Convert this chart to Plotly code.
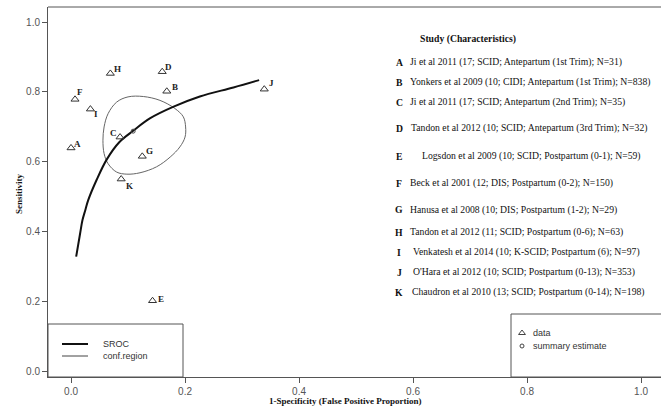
import plotly.graph_objects as go

# ---- study-level accuracy estimates (1-specificity, sensitivity) ----
studies = ["A", "B", "C", "D", "E", "F", "G", "H", "I", "J", "K"]
fpr = [0.000, 0.168, 0.086, 0.160, 0.143, 0.007, 0.125, 0.069, 0.034, 0.339, 0.088]
sens = [0.640, 0.802, 0.671, 0.858, 0.203, 0.779, 0.616, 0.853, 0.751, 0.808, 0.551]

descriptions = [
    "Ji et al 2011 (17; SCID; Antepartum (1st Trim); N=31)",
    "Yonkers et al 2009 (10; CIDI; Antepartum (1st Trim); N=838)",
    "Ji et al 2011 (17; SCID; Antepartum (2nd Trim); N=35)",
    "Tandon et al 2012 (10; SCID; Antepartum (3rd Trim); N=32)",
    "Logsdon et al 2009 (10; SCID; Postpartum (0-1); N=59)",
    "Beck et al 2001 (12; DIS; Postpartum (0-2); N=150)",
    "Hanusa et al 2008 (10; DIS; Postpartum (1-2); N=29)",
    "Tandon et al 2012 (11; SCID; Postpartum (0-6); N=63)",
    "Venkatesh et al 2014 (10; K-SCID; Postpartum (6); N=97)",
    "O'Hara et al 2012 (10; SCID; Postpartum (0-13); N=353)",
    "Chaudron et al 2010 (13; SCID; Postpartum (0-14); N=198)",
]

# ---- pooled summary point ----
summary_fpr = [0.109]
summary_sens = [0.688]

# ---- SROC curve ----
sroc_fpr = [0.009, 0.016, 0.020, 0.025, 0.030, 0.045, 0.063, 0.085,
            0.109, 0.139, 0.180, 0.226, 0.285, 0.330]
sroc_sens = [0.329, 0.396, 0.433, 0.462, 0.490, 0.549, 0.608, 0.657,
             0.689, 0.725, 0.758, 0.787, 0.813, 0.834]

# ---- 95% confidence region around the summary point ----
region_fpr = [0.056, 0.058, 0.065, 0.080, 0.100, 0.127, 0.156, 0.182, 0.197,
              0.201, 0.200, 0.191, 0.174, 0.150, 0.121, 0.098, 0.080, 0.065,
              0.058, 0.056]
region_sens = [0.662, 0.700, 0.738, 0.771, 0.786, 0.787, 0.776, 0.753, 0.729,
               0.700, 0.671, 0.643, 0.614, 0.586, 0.569, 0.565, 0.571, 0.595,
               0.624, 0.662]

ticks = [0.0, 0.2, 0.4, 0.6, 0.8, 1.0]
tick_text = ["0.0", "0.2", "0.4", "0.6", "0.8", "1.0"]

# ---- page geometry (pixels) ----
W, H = 661, 416
L, T, R, B = 48, 7, 661, 377
SERIF = "Liberation Serif"
SANS = "Liberation Sans"
FRAME = "#555555"


def px(x):
    return (x - L) / (R - L)


def py(y):
    return (B - y) / (B - T)


fig = go.Figure()

fig.add_trace(go.Scatter(
    x=region_fpr, y=region_sens, mode="lines", line_shape="spline",
    line=dict(color="#666666", width=1), hoverinfo="skip", showlegend=False))

fig.add_trace(go.Scatter(
    x=sroc_fpr, y=sroc_sens, mode="lines", line_shape="spline",
    line=dict(color="#111111", width=2), hoverinfo="skip", showlegend=False))

fig.add_trace(go.Scatter(
    x=fpr, y=sens, mode="markers", text=studies,
    marker=dict(symbol="triangle-up-open", size=7,
                color="#333333", line=dict(width=1, color="#333333")),
    showlegend=False))

fig.add_trace(go.Scatter(
    x=summary_fpr, y=summary_sens, mode="markers",
    marker=dict(symbol="circle-open", size=4, color="#444444",
                line=dict(width=1, color="#444444")),
    showlegend=False))

# letter labels next to each study point (pixel offsets, y down)
label_offset = {
    "A": (6, -4), "B": (8, -4), "C": (-7, -4), "D": (6, -5), "E": (8, -2),
    "F": (5, -7), "G": (7, -5), "H": (7, -4), "I": (6, 5), "J": (7, -6),
    "K": (8, 7),
}
annotations = []
for s, x, y in zip(studies, fpr, sens):
    dx, dy = label_offset[s]
    annotations.append(dict(
        x=x, y=y, xref="x", yref="y", text=f"<b>{s}</b>", showarrow=False,
        xshift=dx, yshift=-dy, font=dict(family=SERIF, size=9, color="#222222")))

# study list on the right
row_y = [62, 82, 102, 128, 156, 183, 210, 232, 252, 272, 292]
text_x = {"D": 409, "E": 420, "I": 411, "J": 411, "K": 410}
annotations.append(dict(
    x=px(418), y=py(39), xref="paper", yref="paper", xanchor="left",
    yanchor="middle", text="<b>Study (Characteristics)</b>", showarrow=False,
    font=dict(family=SERIF, size=9.7, color="#111111")))
for s, d, ry in zip(studies, descriptions, row_y):
    annotations.append(dict(
        x=px(399), y=py(ry), xref="paper", yref="paper", xanchor="center",
        yanchor="middle", text=f"<b>{s}</b>", showarrow=False,
        font=dict(family=SERIF, size=9.7, color="#111111")))
    annotations.append(dict(
        x=px(text_x.get(s, 408)), y=py(ry), xref="paper", yref="paper",
        xanchor="left", yanchor="middle", text=d, showarrow=False,
        font=dict(family=SERIF, size=9.7, color="#111111")))

# axis titles
annotations.append(dict(
    x=px(12), y=py(194), xref="paper", yref="paper", textangle=-90,
    text="<b>Sensitivity</b>", showarrow=False,
    font=dict(family=SERIF, size=9, color="#111111")))
annotations.append(dict(
    x=px(345), y=py(408), xref="paper", yref="paper",
    text="<b>1-Specificity (False Positive Proportion)</b>", showarrow=False,
    font=dict(family=SERIF, size=9, color="#111111")))

# legend texts
legend_font = dict(family=SANS, size=9, color="#333333")
for label, ly in [("SROC", 344), ("conf.region", 356)]:
    annotations.append(dict(
        x=px(101), y=py(ly), xref="paper", yref="paper", xanchor="left",
        yanchor="middle", text=label, showarrow=False, font=legend_font))
for label, ly in [("data", 333), ("summary estimate", 346)]:
    annotations.append(dict(
        x=px(531), y=py(ly), xref="paper", yref="paper", xanchor="left",
        yanchor="middle", text=label, showarrow=False, font=legend_font))

# legend keys for the right box, placed on an overlay axis in page units
fig.add_trace(go.Scatter(
    x=[px(522)], y=[py(333)], xaxis="x2", yaxis="y2", mode="markers",
    marker=dict(symbol="triangle-up-open", size=6, color="#444444",
                line=dict(width=1, color="#444444")),
    hoverinfo="skip", showlegend=False, cliponaxis=False))
fig.add_trace(go.Scatter(
    x=[px(522)], y=[py(346)], xaxis="x2", yaxis="y2", mode="markers",
    marker=dict(symbol="circle-open", size=4, color="#444444",
                line=dict(width=1, color="#444444")),
    hoverinfo="skip", showlegend=False, cliponaxis=False))

shapes = [
    # top edge of the plot frame
    dict(type="line", xref="paper", yref="paper", x0=0, x1=1, y0=1, y1=1,
         line=dict(color=FRAME, width=1)),
    # legend boxes
    dict(type="rect", xref="paper", yref="paper", x0=0, x1=px(183),
         y0=0, y1=py(324), line=dict(color=FRAME, width=1)),
    dict(type="rect", xref="paper", yref="paper", x0=px(511), x1=1.01,
         y0=0, y1=py(314), line=dict(color=FRAME, width=1)),
    # legend line samples
    dict(type="line", xref="paper", yref="paper", x0=px(62), x1=px(88),
         y0=py(344), y1=py(344), line=dict(color="#111111", width=2)),
    dict(type="line", xref="paper", yref="paper", x0=px(62), x1=px(88),
         y0=py(356), y1=py(356), line=dict(color="#444444", width=1)),
]

axis_common = dict(
    tickvals=ticks, ticktext=tick_text, ticks="outside", ticklen=5,
    tickcolor=FRAME, showline=True, linecolor=FRAME, linewidth=1,
    showgrid=False, zeroline=False,
    tickfont=dict(family=SANS, size=10, color="#555555"))

fig.update_layout(
    width=W, height=H,
    margin=dict(l=L, r=W - R, t=T, b=H - B),
    paper_bgcolor="white", plot_bgcolor="white",
    xaxis=dict(range=[-0.0404, 1.035], **axis_common),
    yaxis=dict(range=[-0.015, 1.043], **axis_common),
    xaxis2=dict(overlaying="x", range=[0, 1], visible=False),
    yaxis2=dict(overlaying="y", range=[0, 1], visible=False),
    annotations=annotations, shapes=shapes, showlegend=False)

fig.write_html("out.html")
